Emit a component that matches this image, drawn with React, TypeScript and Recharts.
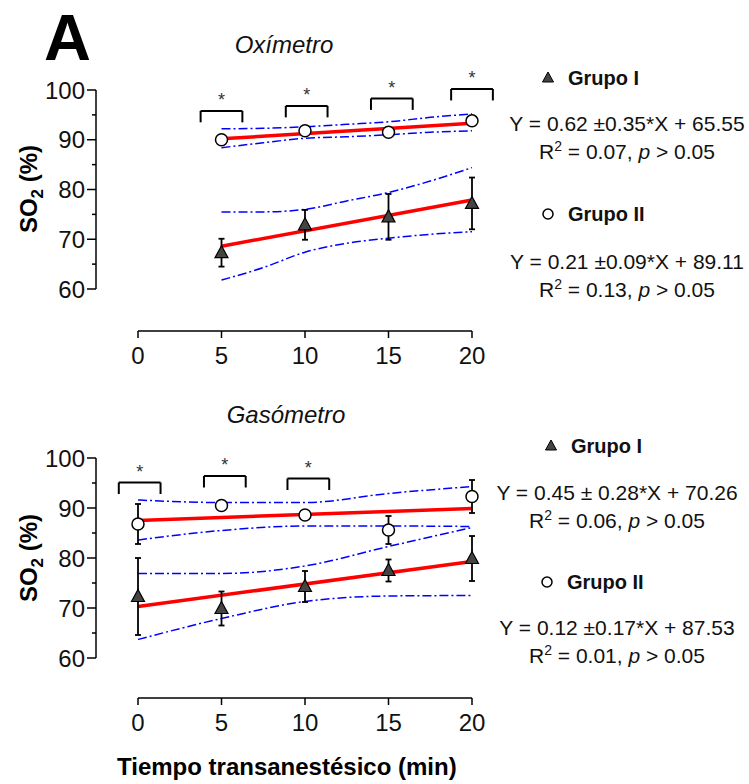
import {
  ComposedChart,
  XAxis,
  YAxis,
  Line,
  Scatter,
  ErrorBar,
  ReferenceLine,
  ReferenceDot,
} from "recharts";

const FONT = '"Liberation Sans", Arial, sans-serif';

// Oxímetro (top panel)
const oxiTimes = [5, 10, 15, 20];
const oxiGrupo1 = [67.3, 72.9, 74.5, 77.2];
const oxiGrupo1Err = [2.8, 3.0, 4.6, 5.2];
const oxiGrupo2 = [90.0, 91.8, 91.5, 93.8];
const oxiGrupo2Err = [0.8, 0.8, 0.8, 0.8];
const oxiFitX = [5, 20];
const oxiFit1 = [68.6, 77.9];
const oxiFit2 = [90.2, 93.3];
const oxiBandX = [5, 7.5, 10, 12.5, 15, 17.5, 20];
const oxiBand1Upper = [75.5, 75.5, 76.0, 77.7, 79.4, 81.7, 84.4];
const oxiBand1Lower = [61.8, 64.3, 67.4, 69.2, 70.2, 71.0, 71.5];
const oxiBand2Upper = [92.2, 92.3, 92.6, 93.1, 93.6, 94.5, 95.2];
const oxiBand2Lower = [88.4, 89.4, 90.3, 90.6, 91.0, 91.5, 91.8];
const oxiSigX = [5, 10.1, 15.2, 20];
const oxiSigY = [95.8, 96.8, 98.3, 100.2];

// Gasómetro (bottom panel)
const gasTimes = [0, 5, 10, 15, 20];
const gasGrupo1 = [72.3, 69.9, 74.3, 77.5, 79.9];
const gasGrupo1Err = [7.7, 3.4, 3.1, 2.2, 4.5];
const gasGrupo2 = [86.8, 90.5, 88.6, 85.6, 92.3];
const gasGrupo2Err = [4.0, 0.8, 0.8, 2.8, 3.3];
const gasFitX = [0, 20];
const gasFit1 = [70.3, 79.3];
const gasFit2 = [87.5, 89.9];
const gasBandX = [0, 5, 10, 15, 20];
const gasBand1Upper = [76.9, 76.9, 78.4, 82.3, 86.1];
const gasBand1Lower = [63.7, 67.9, 71.3, 72.4, 72.5];
const gasBand2Upper = [91.6, 91.1, 91.1, 92.9, 94.3];
const gasBand2Lower = [83.6, 85.5, 86.4, 86.4, 86.3];
const gasSigX = [0.1, 5.2, 10.2];
const gasSigY = [95.1, 96.4, 95.9];

const xTicks = [0, 5, 10, 15, 20];
const yTicks = [60, 65, 70, 75, 80, 85, 90, 95, 100];

function pts(xs: number[], ys: number[], errs?: number[]) {
  return xs.map((x, i) => ({ x, y: ys[i], err: errs ? errs[i] : 0 }));
}

function YTick({ x, y, payload }: any) {
  const major = payload.value % 10 === 0;
  return (
    <g>
      <line x1={x - (major ? 9 : 4)} x2={x} y1={y} y2={y} stroke="#000" strokeWidth={1.5} />
      {major && (
        <text x={x - 11} y={y} dy="0.355em" textAnchor="end" fontSize={24} fontFamily={FONT} fill="#111">
          {payload.value}
        </text>
      )}
    </g>
  );
}

const Triangle = (p: any) => (
  <path
    d={`M${p.cx},${p.cy - 7} L${p.cx + 6.5},${p.cy + 5} L${p.cx - 6.5},${p.cy + 5} Z`}
    fill="#444"
    stroke="#000"
    strokeWidth={1.2}
  />
);

const Circle = (p: any) => (
  <circle cx={p.cx} cy={p.cy} r={6} fill="#fff" stroke="#000" strokeWidth={1.5} />
);

const Star = (p: any) => (
  <text x={p.cx} y={p.cy} dy={10} textAnchor="middle" fontSize={18} fontFamily={FONT} fill="#333">
    *
  </text>
);

type PanelProps = {
  times: number[];
  g1: number[];
  g1Err: number[];
  g2: number[];
  g2Err: number[];
  fitX: number[];
  fit1: number[];
  fit2: number[];
  bandX: number[];
  b1u: number[];
  b1l: number[];
  b2u: number[];
  b2l: number[];
  sigX: number[];
  sigY: number[];
  plotTop: number;
  axisY: number;
  zeroY: number;
};

function Panel(p: PanelProps) {
  const H = 400;
  const bandStyle = { stroke: "#0000ff", strokeWidth: 1.5, strokeDasharray: "9 3 2 3" };
  return (
    <ComposedChart
      width={749}
      height={H}
      margin={{ top: p.plotTop, right: 277, bottom: H - p.axisY - 50, left: 36 }}
    >
      <XAxis
        type="number"
        dataKey="x"
        domain={[0, 20]}
        ticks={xTicks}
        interval={0}
        padding={{ left: 42, right: 0 }}
        height={50}
        tickSize={7}
        tickMargin={9}
        axisLine={{ stroke: "#000", strokeWidth: 1.5, strokeDasharray: "0 42 334 100" }}
        tickLine={{ stroke: "#000", strokeWidth: 1.5 }}
        tick={{ fontSize: 24, fill: "#111", fontFamily: FONT }}
      />
      <YAxis
        type="number"
        dataKey="y"
        domain={[60, 100]}
        ticks={yTicks}
        interval={0}
        padding={{ top: 0, bottom: p.axisY - p.zeroY }}
        width={60}
        tickSize={0}
        tickMargin={0}
        tickLine={false}
        axisLine={{
          stroke: "#000",
          strokeWidth: 1.5,
          strokeDasharray: `${p.zeroY - p.plotTop} 200`,
        }}
        tick={<YTick />}
      />
      <Line data={pts(p.bandX, p.b1u)} dataKey="y" type="monotone" dot={false} {...bandStyle} isAnimationActive={false} />
      <Line data={pts(p.bandX, p.b1l)} dataKey="y" type="monotone" dot={false} {...bandStyle} isAnimationActive={false} />
      <Line data={pts(p.bandX, p.b2u)} dataKey="y" type="monotone" dot={false} {...bandStyle} isAnimationActive={false} />
      <Line data={pts(p.bandX, p.b2l)} dataKey="y" type="monotone" dot={false} {...bandStyle} isAnimationActive={false} />
      <Line data={pts(p.fitX, p.fit1)} dataKey="y" type="linear" dot={false} stroke="#ff0000" strokeWidth={3.5} isAnimationActive={false} />
      <Line data={pts(p.fitX, p.fit2)} dataKey="y" type="linear" dot={false} stroke="#ff0000" strokeWidth={3.5} isAnimationActive={false} />
      <Scatter data={pts(p.times, p.g1, p.g1Err)} dataKey="y" shape={<Triangle />} isAnimationActive={false}>
        <ErrorBar dataKey="err" direction="y" width={3} stroke="#000" strokeWidth={1.8} />
      </Scatter>
      <Scatter data={pts(p.times, p.g2, p.g2Err)} dataKey="y" shape={<Circle />} isAnimationActive={false}>
        <ErrorBar dataKey="err" direction="y" width={3} stroke="#000" strokeWidth={1.8} />
      </Scatter>
      {p.sigX.map((cx, i) => {
        const top = p.sigY[i];
        const low = top - 2.3;
        const l = cx - 1.25;
        const r = cx + 1.25;
        return [
          <ReferenceLine key={`a${i}`} ifOverflow="visible" stroke="#000" strokeWidth={2} segment={[{ x: l, y: low }, { x: l, y: top }]} />,
          <ReferenceLine key={`b${i}`} ifOverflow="visible" stroke="#000" strokeWidth={2} segment={[{ x: l, y: top }, { x: r, y: top }]} />,
          <ReferenceLine key={`c${i}`} ifOverflow="visible" stroke="#000" strokeWidth={2} segment={[{ x: r, y: top }, { x: r, y: low }]} />,
          <ReferenceDot key={`d${i}`} ifOverflow="visible" x={cx} y={top + 3} r={0} shape={<Star />} />,
        ];
      })}
    </ComposedChart>
  );
}

function Sup({ children }: { children: string }) {
  return (
    <tspan dy={-8} fontSize={14}>
      {children}
    </tspan>
  );
}

function Stats({ cx, y, eq, r2 }: { cx: number; y: number; eq: string; r2: string }) {
  return (
    <g fontFamily={FONT} fontSize={21} fill="#111" textAnchor="middle">
      <text x={cx} y={y}>{eq}</text>
      <text x={cx} y={y + 28}>
        R<Sup>2</Sup>
        <tspan dy={8}>{` = ${r2}, `}</tspan>
        <tspan fontStyle="italic">p</tspan>
        <tspan>{" > 0.05"}</tspan>
      </text>
    </g>
  );
}

function Legend({ x, y, label, tri }: { x: number; y: number; label: string; tri: boolean }) {
  return (
    <g>
      {tri ? (
        <path d={`M${x},${y - 6} L${x + 5.5},${y + 4} L${x - 5.5},${y + 4} Z`} fill="#444" stroke="#000" strokeWidth={1} />
      ) : (
        <circle cx={x} cy={y} r={5} fill="#fff" stroke="#000" strokeWidth={1.5} />
      )}
      <text x={x + 20} y={y + 7} fontFamily={FONT} fontSize={20} fontWeight="bold" fill="#111">
        {label}
      </text>
    </g>
  );
}

export default function App() {
  return (
    <div style={{ position: "absolute", left: 0, top: 0, width: 749, height: 784, background: "#fff" }}>
      <div style={{ position: "absolute", left: 0, top: 0 }}>
        <Panel
          times={oxiTimes}
          g1={oxiGrupo1}
          g1Err={oxiGrupo1Err}
          g2={oxiGrupo2}
          g2Err={oxiGrupo2Err}
          fitX={oxiFitX}
          fit1={oxiFit1}
          fit2={oxiFit2}
          bandX={oxiBandX}
          b1u={oxiBand1Upper}
          b1l={oxiBand1Lower}
          b2u={oxiBand2Upper}
          b2l={oxiBand2Lower}
          sigX={oxiSigX}
          sigY={oxiSigY}
          plotTop={90}
          axisY={331}
          zeroY={289}
        />
      </div>
      <div style={{ position: "absolute", left: 0, top: 380 }}>
        <Panel
          times={gasTimes}
          g1={gasGrupo1}
          g1Err={gasGrupo1Err}
          g2={gasGrupo2}
          g2Err={gasGrupo2Err}
          fitX={gasFitX}
          fit1={gasFit1}
          fit2={gasFit2}
          bandX={gasBandX}
          b1u={gasBand1Upper}
          b1l={gasBand1Lower}
          b2u={gasBand2Upper}
          b2l={gasBand2Lower}
          sigX={gasSigX}
          sigY={gasSigY}
          plotTop={78}
          axisY={318}
          zeroY={278}
        />
      </div>
      <svg
        width={749}
        height={784}
        style={{ position: "absolute", left: 0, top: 0, pointerEvents: "none" }}
      >
        <text x={44} y={60} fontFamily={FONT} fontSize={65} fontWeight="bold" fill="#000">
          A
        </text>
        <text x={284} y={53} textAnchor="middle" fontFamily={FONT} fontSize={24} fontStyle="italic" fill="#111">
          Oxímetro
        </text>
        <text x={286} y={423} textAnchor="middle" fontFamily={FONT} fontSize={24} fontStyle="italic" fill="#111">
          Gasómetro
        </text>
        {[189, 558].map((cy) => (
          <text
            key={cy}
            transform={`translate(37, ${cy}) rotate(-90)`}
            textAnchor="middle"
            fontFamily={FONT}
            fontSize={24}
            fontWeight="bold"
            fill="#000"
          >
            SO<tspan dy={6} fontSize={17}>2</tspan>
            <tspan dy={-6}> (%)</tspan>
          </text>
        ))}
        <text x={117} y={775} fontFamily={FONT} fontSize={24} fontWeight="bold" fill="#000">
          Tiempo transanestésico (min)
        </text>

        <Legend x={548} y={78} label="Grupo I" tri />
        <Stats cx={627} y={131} eq="Y = 0.62 ±0.35*X + 65.55" r2="0.07" />
        <Legend x={548} y={214} label="Grupo II" tri={false} />
        <Stats cx={627} y={269} eq="Y = 0.21 ±0.09*X + 89.11" r2="0.13" />

        <Legend x={551} y={446} label="Grupo I" tri />
        <Stats cx={617} y={500} eq="Y = 0.45 ± 0.28*X + 70.26" r2="0.06" />
        <Legend x={547} y={582} label="Grupo II" tri={false} />
        <Stats cx={617} y={635} eq="Y = 0.12 ±0.17*X + 87.53" r2="0.01" />
      </svg>
    </div>
  );
}
